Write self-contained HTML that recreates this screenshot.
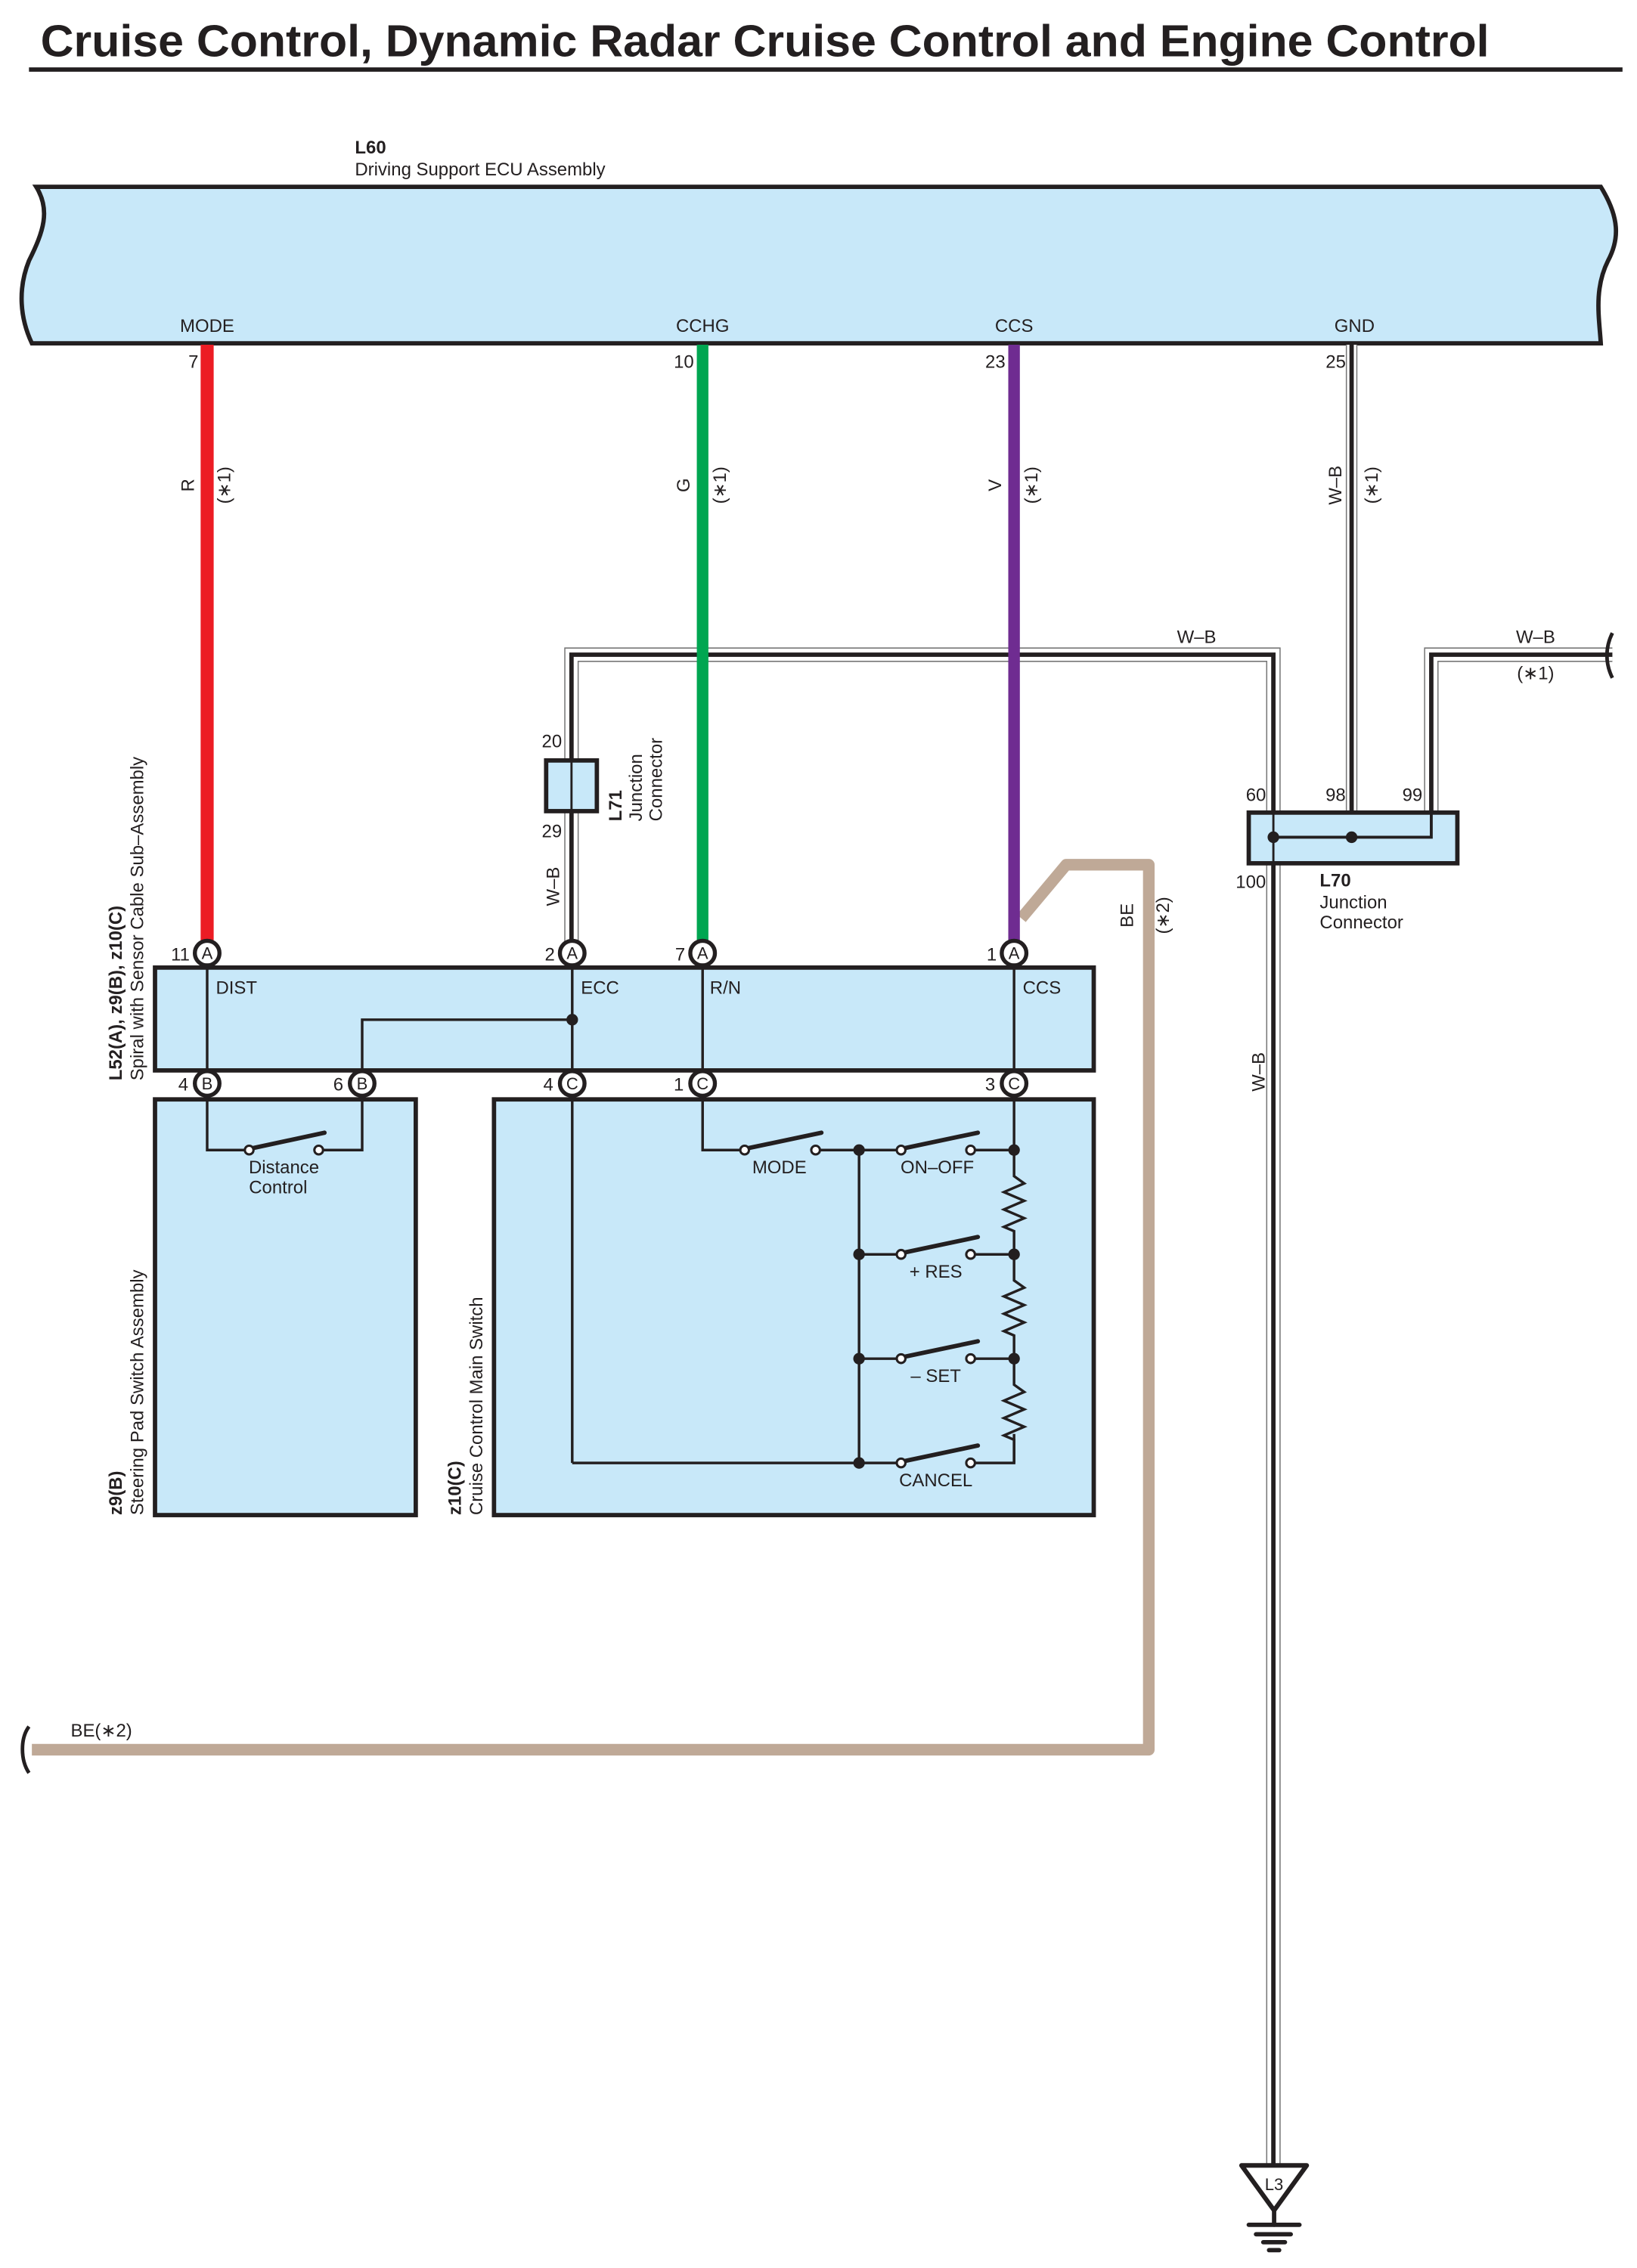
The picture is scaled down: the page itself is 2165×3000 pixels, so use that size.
<!DOCTYPE html>
<html><head><meta charset="utf-8"><style>
html,body{margin:0;padding:0;background:#fff;}
svg{display:block;}
text{font-family:"Liberation Sans",sans-serif;fill:#231f20;}
</style></head><body>
<svg width="2165" height="3000" viewBox="0 0 1130 1565.8" preserveAspectRatio="none" xmlns="http://www.w3.org/2000/svg">
<!-- title -->
<text x="28" y="39" font-size="31" font-weight="bold" textLength="1000" lengthAdjust="spacingAndGlyphs">Cruise Control, Dynamic Radar Cruise Control and Engine Control</text>
<line x1="20" y1="48" x2="1120" y2="48" stroke="#231f20" stroke-width="3"/>

<!-- ECU -->
<text x="245" y="106" font-size="12.5" font-weight="bold">L60</text>
<text x="245" y="121" font-size="12.5">Driving Support ECU Assembly</text>
<path d="M25,129 L1105,129 C1118,150 1118,165 1110,180 C1100,200 1104,220 1105,237 L22,237 C14,220 12,200 20,180 C30,160 35,145 25,129 Z" fill="#c8e8f9" stroke="#231f20" stroke-width="3"/>
<g font-size="12.5" text-anchor="middle">
<text x="143" y="229">MODE</text><text x="485" y="229">CCHG</text><text x="700" y="229">CCS</text><text x="935" y="229">GND</text>
</g>
<g font-size="12.5" text-anchor="end">
<text x="137" y="254">7</text><text x="479" y="254">10</text><text x="694" y="254">23</text><text x="929" y="254">25</text>
</g>

<!-- BE wire -->
<path d="M705,634 L736,597 L793,597 L793,1208 L22,1208" fill="none" stroke="#bfa997" stroke-width="8" stroke-linejoin="round"/>
<path d="M20,1192 C14,1200 14,1215 20,1224" fill="none" stroke="#231f20" stroke-width="2.5"/>

<!-- W-B wires -->
<g fill="none" stroke-linejoin="miter">
<path d="M394.5,650 L394.5,452 L879,452 L879,1494" stroke="#777" stroke-width="10"/>
<path d="M394.5,650 L394.5,452 L879,452 L879,1494" stroke="#fff" stroke-width="8.4"/>
<path d="M394.5,650 L394.5,452 L879,452 L879,1494" stroke="#231f20" stroke-width="3"/>
<path d="M933,238 L933,578" stroke="#777" stroke-width="8"/>
<path d="M933,238 L933,578" stroke="#fff" stroke-width="6.4"/>
<path d="M933,238 L933,578" stroke="#231f20" stroke-width="3"/>
<path d="M988,578 L988,452 L1113,452" stroke="#777" stroke-width="10"/>
<path d="M988,578 L988,452 L1113,452" stroke="#fff" stroke-width="8.4"/>
<path d="M988,578 L988,452 L1113,452" stroke="#231f20" stroke-width="3"/>
<path d="M1113,437 C1108,447 1108,458 1113,468" stroke="#231f20" stroke-width="2.5"/>
</g>

<!-- color wires -->
<line x1="143" y1="238" x2="143" y2="650" stroke="#ec1c24" stroke-width="9"/>
<line x1="485" y1="238" x2="485" y2="650" stroke="#00a651" stroke-width="8"/>
<line x1="700" y1="238" x2="700" y2="650" stroke="#6f2c91" stroke-width="8"/>

<!-- wire labels -->
<g font-size="12.5" text-anchor="middle">
<text transform="translate(134,335) rotate(-90)">R</text>
<text transform="translate(159,335) rotate(-90)">(∗1)</text>
<text transform="translate(476,335) rotate(-90)">G</text>
<text transform="translate(501,335) rotate(-90)">(∗1)</text>
<text transform="translate(691,335) rotate(-90)">V</text>
<text transform="translate(716,335) rotate(-90)">(∗1)</text>
<text transform="translate(926,335) rotate(-90)">W–B</text>
<text transform="translate(951,335) rotate(-90)">(∗1)</text>
<text x="826" y="444">W–B</text>
<text x="1060" y="444">W–B</text>
<text x="1060" y="469">(∗1)</text>
<text transform="translate(782,632) rotate(-90)">BE</text>
<text transform="translate(807,632) rotate(-90)">(∗2)</text>
<text transform="translate(873,740) rotate(-90)">W–B</text>
<text transform="translate(386,612) rotate(-90)">W–B</text>
<text x="70" y="1199">BE(∗2)</text>
</g>

<!-- L71 -->
<rect x="377" y="525" width="35" height="35" fill="#c8e8f9" stroke="#231f20" stroke-width="3"/>
<line x1="394.5" y1="525" x2="394.5" y2="560" stroke="#231f20" stroke-width="1.5"/>
<text x="374" y="516" font-size="12.5">20</text>
<text x="374" y="578" font-size="12.5">29</text>
<text transform="translate(429,567) rotate(-90)" font-size="12.5" font-weight="bold">L71</text>
<text transform="translate(443,567) rotate(-90)" font-size="12.5">Junction</text>
<text transform="translate(457,567) rotate(-90)" font-size="12.5">Connector</text>

<!-- L70 -->
<rect x="862" y="561" width="144" height="35" fill="#c8e8f9" stroke="#231f20" stroke-width="3"/>
<path d="M879,578 L988,578 L988,561" fill="none" stroke="#231f20" stroke-width="2"/>
<line x1="879" y1="561" x2="879" y2="596" stroke="#231f20" stroke-width="1.5"/>
<circle cx="879" cy="578" r="4" fill="#231f20"/>
<circle cx="933" cy="578" r="4" fill="#231f20"/>
<g font-size="12.5">
<text x="860" y="553">60</text><text x="915" y="553">98</text><text x="968" y="553">99</text>
<text x="853" y="613">100</text>
<text x="911" y="612" font-weight="bold">L70</text>
<text x="911" y="627">Junction</text>
<text x="911" y="641">Connector</text>
</g>

<!-- L3 ground -->
<path d="M857,1495 L902,1495 L879.5,1526 Z" fill="#fff" stroke="#231f20" stroke-width="3.2" stroke-linejoin="round"/>
<text x="879.5" y="1512" font-size="11.5" text-anchor="middle">L3</text>
<g stroke="#231f20" stroke-width="3" stroke-linecap="round">
<line x1="879.5" y1="1526" x2="879.5" y2="1536"/>
<line x1="862" y1="1536" x2="897" y2="1536"/>
<line x1="867" y1="1542.5" x2="891" y2="1542.5"/>
<line x1="872" y1="1548" x2="887" y2="1548"/>
<line x1="876" y1="1553.5" x2="883" y2="1553.5"/>
</g>

<!-- boxes -->
<rect x="107" y="668" width="648" height="71" fill="#c8e8f9" stroke="#231f20" stroke-width="3"/>
<rect x="107" y="759" width="180" height="287" fill="#c8e8f9" stroke="#231f20" stroke-width="3"/>
<rect x="341" y="759" width="414" height="287" fill="#c8e8f9" stroke="#231f20" stroke-width="3"/>

<g stroke="#231f20" stroke-width="1.8" fill="none">
<line x1="143" y1="658" x2="143" y2="748"/>
<line x1="395" y1="658" x2="395" y2="1010"/>
<line x1="485" y1="658" x2="485" y2="748"/>
<line x1="700" y1="658" x2="700" y2="748"/>
<path d="M395,704 L250,704 L250,748"/>
</g>
<circle cx="395" cy="704" r="4" fill="#231f20"/>
<g font-size="12.5">
<text x="149" y="686">DIST</text><text x="401" y="686">ECC</text><text x="490" y="686">R/N</text><text x="706" y="686">CCS</text>
</g>
<text transform="translate(84,746) rotate(-90)" font-size="12.5" font-weight="bold">L52(A), z9(B), z10(C)</text>
<text transform="translate(99,746) rotate(-90)" font-size="12.5">Spiral with Sensor Cable Sub–Assembly</text>

<text transform="translate(84,1046) rotate(-90)" font-size="12.5" font-weight="bold">z9(B)</text>
<text transform="translate(99,1046) rotate(-90)" font-size="12.5">Steering Pad Switch Assembly</text>
<text transform="translate(318,1046) rotate(-90)" font-size="12.5" font-weight="bold">z10(C)</text>
<text transform="translate(333,1046) rotate(-90)" font-size="12.5">Cruise Control Main Switch</text>

<g stroke="#231f20" stroke-width="1.8" fill="none">
<path d="M143,748 L143,794 L169,794"/><path d="M223,794 L250,794 L250,748"/>
<path d="M485,748 L485,794 L511,794"/>
<path d="M566,794 L619,794"/><path d="M673,794 L700,794 L700,748"/>
<path d="M593,794 L593,1010"/>
<path d="M395,1010 L619,1010"/><path d="M673,1010 L700,1010 L700,990"/>
<path d="M593,866 L619,866"/><path d="M673,866 L700,866"/>
<path d="M593,938 L619,938"/><path d="M673,938 L700,938"/>
<path d="M700,794 L700,812 L707,817 L693,823 L707,829 L693,835 L707,841 L693,847 L700,850 L700,866"/>
<path d="M700,866 L700,884 L707,889 L693,895 L707,901 L693,907 L707,913 L693,919 L700,922 L700,938"/>
<path d="M700,938 L700,956 L707,961 L693,967 L707,973 L693,979 L707,985 L693,991 L700,994 L700,1010"/>
</g>
<g stroke="#231f20" stroke-width="3" stroke-linecap="round">
<line x1="173" y1="793" x2="224" y2="782"/>
<line x1="515" y1="793" x2="567" y2="782"/>
<line x1="623" y1="793" x2="675" y2="782"/>
<line x1="623" y1="865" x2="675" y2="854"/>
<line x1="623" y1="937" x2="675" y2="926"/>
<line x1="623" y1="1009" x2="675" y2="998"/>
</g>
<g fill="#fff" stroke="#231f20" stroke-width="1.6">
<circle cx="172" cy="794" r="3"/><circle cx="220" cy="794" r="3"/>
<circle cx="514" cy="794" r="3"/><circle cx="563" cy="794" r="3"/>
<circle cx="622" cy="794" r="3"/><circle cx="670" cy="794" r="3"/>
<circle cx="622" cy="866" r="3"/><circle cx="670" cy="866" r="3"/>
<circle cx="622" cy="938" r="3"/><circle cx="670" cy="938" r="3"/>
<circle cx="622" cy="1010" r="3"/><circle cx="670" cy="1010" r="3"/>
</g>
<g fill="#231f20">
<circle cx="593" cy="794" r="4"/><circle cx="700" cy="794" r="4"/>
<circle cx="593" cy="866" r="4"/><circle cx="700" cy="866" r="4"/>
<circle cx="593" cy="938" r="4"/><circle cx="700" cy="938" r="4"/>
<circle cx="593" cy="1010" r="4"/>
</g>
<g font-size="12.5" text-anchor="middle">
<text x="196" y="810">Distance</text><text x="192" y="824">Control</text>
<text x="538" y="810">MODE</text><text x="647" y="810">ON–OFF</text>
<text x="646" y="882">+ RES</text><text x="646" y="954">– SET</text>
<text x="646" y="1026">CANCEL</text>
</g>

<!-- connector circles -->
<g fill="#fff" stroke="#231f20" stroke-width="2.8">
<circle cx="143" cy="658" r="8.5"/><circle cx="395" cy="658" r="8.5"/><circle cx="485" cy="658" r="8.5"/><circle cx="700" cy="658" r="8.5"/>
<circle cx="143" cy="748" r="8.5"/><circle cx="250" cy="748" r="8.5"/><circle cx="395" cy="748" r="8.5"/><circle cx="485" cy="748" r="8.5"/><circle cx="700" cy="748" r="8.5"/>
</g>
<g font-size="11.5" text-anchor="middle">
<text x="143" y="662">A</text><text x="395" y="662">A</text><text x="485" y="662">A</text><text x="700" y="662">A</text>
<text x="143" y="752">B</text><text x="250" y="752">B</text><text x="395" y="752">C</text><text x="485" y="752">C</text><text x="700" y="752">C</text>
</g>
<g font-size="12.5" text-anchor="end">
<text x="131" y="663">11</text><text x="383" y="663">2</text><text x="473" y="663">7</text><text x="688" y="663">1</text>
<text x="130" y="753">4</text><text x="237" y="753">6</text><text x="382" y="753">4</text><text x="472" y="753">1</text><text x="687" y="753">3</text>
</g>
</svg>
</body></html>
